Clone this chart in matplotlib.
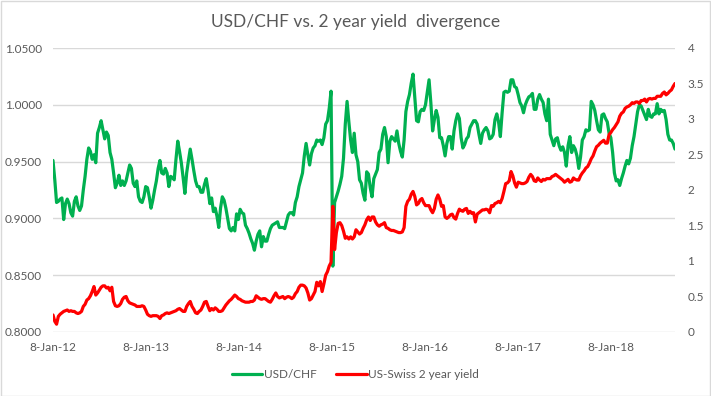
import numpy as np
import pandas as pd
import matplotlib
matplotlib.use("Agg")
import matplotlib.pyplot as plt
import matplotlib.dates as mdates
from matplotlib.ticker import FuncFormatter, FixedLocator

# ---------------- data (weekly, from 8-Jan-2012) ----------------
start_date = "2012-01-08"

usdchf = [
    0.951, 0.934, 0.914, 0.915, 0.917, 0.918, 0.899, 0.913, 0.917, 0.913,
    0.905, 0.902, 0.915, 0.919, 0.911, 0.907, 0.911, 0.925, 0.937, 0.952,
    0.962, 0.959, 0.952, 0.956, 0.949, 0.975, 0.980, 0.986, 0.978, 0.970,
    0.976, 0.973, 0.958, 0.952, 0.940, 0.927, 0.931, 0.938, 0.929, 0.933,
    0.929, 0.933, 0.940, 0.947, 0.944, 0.931, 0.928, 0.933, 0.919, 0.915,
    0.914, 0.919, 0.928, 0.927, 0.919, 0.909, 0.916, 0.925, 0.933, 0.944,
    0.951, 0.940, 0.939, 0.944, 0.940, 0.928, 0.937, 0.936, 0.934, 0.952,
    0.968, 0.959, 0.949, 0.936, 0.922, 0.940, 0.951, 0.961, 0.952, 0.942,
    0.933, 0.928, 0.928, 0.923, 0.923, 0.930, 0.935, 0.925, 0.913, 0.918,
    0.906, 0.909, 0.902, 0.892, 0.909, 0.919, 0.916, 0.909, 0.900, 0.891,
    0.889, 0.892, 0.889, 0.904, 0.899, 0.908, 0.905, 0.904, 0.894, 0.891,
    0.887, 0.882, 0.878, 0.872, 0.880, 0.886, 0.889, 0.875, 0.884, 0.880,
    0.880, 0.886, 0.891, 0.894, 0.895, 0.896, 0.897, 0.892, 0.892, 0.892,
    0.891, 0.897, 0.903, 0.905, 0.905, 0.903, 0.914, 0.919, 0.928, 0.934,
    0.940, 0.955, 0.966, 0.956, 0.947, 0.957, 0.962, 0.964, 0.969, 0.968,
    0.969, 0.965, 0.971, 0.983, 0.986, 0.997, 1.012, 0.858, 0.914, 0.919,
    0.924, 0.930, 0.937, 0.953, 0.983, 1.003, 0.985, 0.969, 0.958, 0.975,
    0.956, 0.950, 0.934, 0.931, 0.922, 0.916, 0.941, 0.939, 0.927, 0.919,
    0.935, 0.939, 0.943, 0.958, 0.961, 0.974, 0.980, 0.972, 0.949, 0.968,
    0.972, 0.970, 0.968, 0.977, 0.966, 0.959, 0.954, 0.969, 0.994, 1.003,
    1.009, 1.019, 1.027, 1.006, 0.986, 0.985, 0.994, 0.996, 0.995, 1.000,
    1.011, 1.022, 1.002, 0.977, 0.987, 0.995, 0.989, 0.971, 0.971, 0.964,
    0.955, 0.966, 0.972, 0.972, 0.961, 0.977, 0.986, 0.992, 0.988, 0.971,
    0.962, 0.965, 0.970, 0.972, 0.980, 0.983, 0.986, 0.986, 0.983, 0.974,
    0.966, 0.975, 0.978, 0.980, 0.977, 0.970, 0.971, 0.974, 0.987, 0.992,
    0.985, 0.972, 0.993, 1.011, 1.012, 1.011, 1.012, 1.022, 1.022, 1.016,
    1.015, 1.009, 1.002, 0.999, 0.993, 1.000, 1.004, 1.007, 1.008, 1.010,
    0.996, 0.996, 1.005, 1.009, 1.005, 1.002, 0.992, 0.986, 1.005, 0.974,
    0.969, 0.964, 0.970, 0.971, 0.964, 0.960, 0.963, 0.958, 0.946, 0.964,
    0.972, 0.958, 0.964, 0.961, 0.955, 0.944, 0.954, 0.969, 0.972, 0.978,
    0.977, 0.978, 1.003, 1.000, 0.995, 0.986, 0.978, 0.976, 0.991, 0.992,
    0.988, 0.985, 0.975, 0.971, 0.958, 0.940, 0.933, 0.934, 0.929, 0.935,
    0.940, 0.946, 0.951, 0.948, 0.953, 0.964, 0.972, 0.983, 0.994, 1.000,
    0.999, 0.995, 0.991, 0.987, 0.996, 0.990, 0.989, 0.992, 0.992, 1.001,
    0.992, 0.996, 0.994, 0.995, 0.987, 0.974, 0.969, 0.969, 0.966, 0.961,
]

spread_2y = [
    0.24, 0.15, 0.11, 0.22, 0.25, 0.27, 0.29, 0.30, 0.31, 0.29,
    0.30, 0.29, 0.29, 0.27, 0.26, 0.27, 0.29, 0.36, 0.39, 0.45,
    0.47, 0.51, 0.57, 0.64, 0.52, 0.55, 0.59, 0.63, 0.65, 0.65,
    0.62, 0.63, 0.58, 0.63, 0.43, 0.37, 0.36, 0.37, 0.40, 0.46,
    0.49, 0.50, 0.44, 0.41, 0.40, 0.39, 0.38, 0.36, 0.36, 0.36,
    0.37, 0.36, 0.31, 0.25, 0.23, 0.22, 0.23, 0.23, 0.23, 0.22,
    0.19, 0.23, 0.24, 0.26, 0.27, 0.26, 0.27, 0.28, 0.29, 0.30,
    0.32, 0.33, 0.31, 0.29, 0.29, 0.36, 0.40, 0.43, 0.36, 0.32,
    0.27, 0.26, 0.29, 0.31, 0.36, 0.42, 0.43, 0.36, 0.30, 0.33,
    0.31, 0.34, 0.32, 0.29, 0.29, 0.30, 0.34, 0.38, 0.41, 0.44,
    0.46, 0.49, 0.52, 0.50, 0.47, 0.46, 0.44, 0.43, 0.42, 0.42,
    0.42, 0.43, 0.43, 0.45, 0.51, 0.49, 0.47, 0.46, 0.47, 0.47,
    0.45, 0.43, 0.42, 0.46, 0.51, 0.55, 0.50, 0.48, 0.49, 0.50,
    0.47, 0.49, 0.50, 0.49, 0.47, 0.49, 0.54, 0.57, 0.63, 0.66,
    0.66, 0.65, 0.62, 0.55, 0.45, 0.47, 0.52, 0.57, 0.70, 0.65,
    0.71, 0.57, 0.68, 0.80, 0.85, 0.93, 0.98, 1.77, 1.16, 1.40,
    1.53, 1.54, 1.50, 1.42, 1.32, 1.34, 1.31, 1.34, 1.31, 1.34,
    1.44, 1.41, 1.38, 1.40, 1.46, 1.51, 1.58, 1.62, 1.57, 1.62,
    1.62, 1.55, 1.51, 1.49, 1.51, 1.52, 1.54, 1.47, 1.46, 1.44,
    1.43, 1.43, 1.42, 1.41, 1.40, 1.40, 1.41, 1.47, 1.77, 1.84,
    1.87, 1.94, 1.98, 1.91, 1.79, 1.81, 1.86, 1.88, 1.82, 1.78,
    1.78, 1.78, 1.72, 1.68, 1.74, 1.87, 1.93, 1.87, 1.77, 1.78,
    1.62, 1.60, 1.62, 1.65, 1.66, 1.61, 1.59, 1.67, 1.73, 1.71,
    1.70, 1.73, 1.74, 1.67, 1.70, 1.67, 1.68, 1.55, 1.66, 1.68,
    1.70, 1.72, 1.72, 1.73, 1.72, 1.68, 1.78, 1.77, 1.81, 1.82,
    1.84, 1.82, 1.88, 1.98, 2.09, 2.10, 2.13, 2.26, 2.20, 2.10,
    2.04, 2.11, 2.10, 2.09, 2.09, 2.10, 2.12, 2.18, 2.22, 2.19,
    2.13, 2.12, 2.17, 2.14, 2.12, 2.15, 2.14, 2.16, 2.16, 2.16,
    2.19, 2.20, 2.22, 2.20, 2.18, 2.16, 2.14, 2.11, 2.13, 2.15,
    2.11, 2.12, 2.17, 2.15, 2.14, 2.14, 2.20, 2.24, 2.27, 2.31,
    2.33, 2.38, 2.44, 2.48, 2.55, 2.61, 2.63, 2.66, 2.68, 2.70,
    2.66, 2.66, 2.78, 2.81, 2.85, 2.88, 2.92, 2.96, 3.04, 3.08,
    3.10, 3.15, 3.17, 3.18, 3.20, 3.23, 3.22, 3.24, 3.24, 3.22,
    3.26, 3.26, 3.28, 3.24, 3.28, 3.29, 3.28, 3.29, 3.29, 3.32,
    3.32, 3.32, 3.36, 3.38, 3.34, 3.36, 3.39, 3.41, 3.46, 3.50,
]

xtick_dates = ["2012-01-08", "2013-01-08", "2014-01-08", "2015-01-08",
               "2016-01-08", "2017-01-08", "2018-01-08"]
left_ticks = [0.80, 0.85, 0.90, 0.95, 1.00, 1.05]
right_ticks = [0, 0.5, 1, 1.5, 2, 2.5, 3, 3.5, 4]

title = "USD/CHF vs. 2 year yield  divergence"
label_fx = "USD/CHF"
label_spread = "US-Swiss 2 year yield"

# ---------------- styling ----------------
FONT = ["Lato", "DejaVu Sans"]
plt.rcParams["font.family"] = FONT
TXT = "#595959"
GRID = "#D9D9D9"
GREEN = "#00B050"
RED = "#FF0000"

dates = pd.date_range(start_date, periods=len(usdchf), freq="7D")

W, H = 711, 396
fig = plt.figure(figsize=(W / 100, H / 100), dpi=100)
fig.patch.set_facecolor("white")

# chart border
fig.add_artist(plt.Rectangle((0.5 / W, 0.5 / H), 1 - 1.5 / W, 1 - 1.5 / H,
                             transform=fig.transFigure, fill=False,
                             edgecolor=GRID, lw=1))

L, R, T, B = 53, 675, 48, 332
ax = fig.add_axes([L / W, 1 - B / H, (R - L) / W, (B - T) / H])
ax2 = ax.twinx()

ax.plot(dates, usdchf, color=GREEN, lw=2.3, solid_joinstyle="round",
        solid_capstyle="round", label=label_fx)
ax2.plot(dates, spread_2y, color=RED, lw=2.3, solid_joinstyle="round",
         solid_capstyle="round", label=label_spread)

ax.set_ylim(left_ticks[0], left_ticks[-1])
ax2.set_ylim(right_ticks[0], right_ticks[-1])
ax.set_xlim(dates[0], dates[-1])

ax.yaxis.set_major_locator(FixedLocator(left_ticks))
ax.yaxis.set_major_formatter(FuncFormatter(lambda v, p: f"{v:.4f}"))
ax2.yaxis.set_major_locator(FixedLocator(right_ticks))
ax2.yaxis.set_major_formatter(FuncFormatter(lambda v, p: f"{v:g}"))

ax.set_xticks(pd.to_datetime(xtick_dates))
ax.xaxis.set_major_formatter(mdates.DateFormatter("%-d-%b-%y"))

ax.grid(axis="y", color=GRID, lw=1)
ax.set_axisbelow(True)
for a in (ax, ax2):
    for s in a.spines.values():
        s.set_visible(False)
ax.tick_params(axis="y", length=0, labelsize=8.5, labelcolor=TXT, pad=8)
ax.tick_params(axis="x", length=0, labelsize=8.5, labelcolor=TXT, pad=7)
ax2.tick_params(axis="y", length=0, labelsize=8.5, labelcolor=TXT, pad=9)

fig.text(0.5, 1 - 22 / H, title, ha="center", va="center",
         fontsize=12.5, color=TXT)

h1, l1 = ax.get_legend_handles_labels()
h2, l2 = ax2.get_legend_handles_labels()
fig.legend(h1 + h2, l1 + l2, loc="center", bbox_to_anchor=(0.5, 1 - 375 / H),
           ncol=2, frameon=False, fontsize=8.5, labelcolor=TXT,
           handlelength=2.6, handletextpad=0.15, columnspacing=1.6)

fig.savefig("out.png", dpi=100, facecolor="white")
